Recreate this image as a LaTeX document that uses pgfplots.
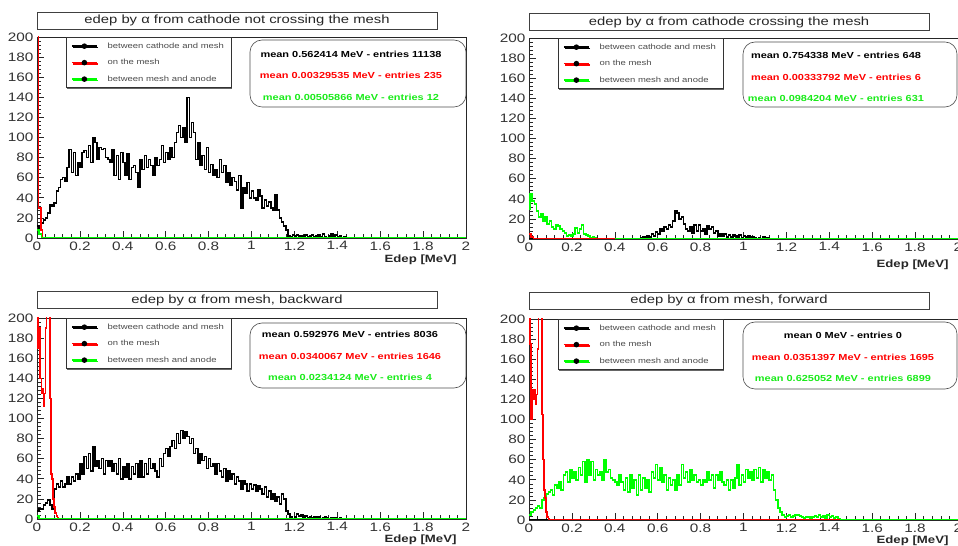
\documentclass[border=0pt]{standalone}
\usepackage{fontspec}
\setmainfont{Liberation Sans}[FakeStretch=1.25]
\usepackage{pgfplots}
\pgfplotsset{compat=1.18}
\usetikzlibrary{shadows}
\definecolor{hred}{RGB}{255,0,0}
\definecolor{hgreen}{RGB}{0,255,0}
\definecolor{tgreen}{RGB}{25,235,25}
\definecolor{lgray}{RGB}{75,75,75}

\pgfplotsset{
 rootstyle/.style={
  anchor=south west, width=429bp, height=201bp, scale only axis,
  xmin=0,xmax=2,ymin=0,ymax=200,
  xtick={0,0.2,0.4,0.6,0.8,1,1.2,1.4,1.6,1.8,2},
  ytick={0,20,40,60,80,100,120,140,160,180,200},
  minor x tick num=4, minor y tick num=4,
  tick align=inside, tick pos=left,
  major tick length=7bp, minor tick length=3.5bp,
  axis line style={black!85,line width=0.8bp},
  every tick/.style={black!85,line width=0.6bp},
  tick label style={font=\fontsize{12.3}{14}\selectfont, text=black!80},
  /pgf/number format/assume math mode=true,
  xlabel={\bfseries Edep [MeV]},
  legend style={at={(axis description cs:0.067,1)}, anchor=north west, draw=black!80, line width=0.8bp, fill=white,
    font=\fontsize{7.6}{9}\selectfont, text=lgray, inner xsep=5bp, inner ysep=3.3bp, row sep=5.5bp,
    drop shadow={shadow xshift=1.2bp, shadow yshift=-1.2bp, fill=black!60, opacity=1}},
  legend cell align=left,
  legend image code/.code={\draw[mark repeat=2,mark phase=2,##1] plot coordinates {(0bp,0bp)(12.5bp,0bp)(25bp,0bp)}; \path (33bp,0bp);},
 },
 hist/.style={const plot mark left, no markers, line width=1.5bp, forget plot},
}
\newcommand{\legendimages}{%
 \addlegendimage{black,line width=1.5bp,mark=*,mark size=2bp,mark options={fill=black,draw=black,solid}}
 \addlegendimage{hred,line width=1.5bp,mark=*,mark size=2bp,mark options={fill=black,draw=black,solid}}
 \addlegendimage{hgreen,line width=1.5bp,mark=*,mark size=2bp,mark options={fill=black,draw=black,solid}}
 \legend{between cathode and mesh\hspace{8bp},on the mesh,between mesh and anode}}

\begin{document}
\begin{tikzpicture}
\useasboundingbox (0,0) rectangle (958bp,546bp);

% ---------------- Panel 1 ----------------
\begin{axis}[rootstyle, at={(37bp,308bp)},
  xlabel style={font=\fontsize{10.6}{12}\selectfont, text=black!85, at={(axis description cs:0.986,0)}, anchor=east, yshift=-22bp}]
\addplot[hist, black] coordinates {(0,12)(0.01,10)(0.02,15)(0.03,18)(0.04,20)(0.05,25)(0.06,33)(0.07,32)(0.08,35)(0.09,47)(0.10,50)(0.11,58)(0.12,60)(0.13,56)(0.14,70)(0.15,88)(0.16,65)(0.17,85)(0.18,62)(0.19,75)(0.20,70)(0.21,85)(0.22,87)(0.23,80)(0.24,92)(0.25,75)(0.26,100)(0.27,95)(0.28,78)(0.29,90)(0.30,88)(0.31,89)(0.32,80)(0.33,78)(0.34,75)(0.35,88)(0.36,62)(0.37,82)(0.38,58)(0.39,85)(0.40,75)(0.41,62)(0.42,84)(0.43,58)(0.44,70)(0.45,72)(0.46,65)(0.47,50)(0.48,78)(0.49,68)(0.50,82)(0.51,70)(0.52,78)(0.53,72)(0.54,62)(0.55,80)(0.56,72)(0.57,78)(0.58,92)(0.59,75)(0.60,85)(0.61,78)(0.62,90)(0.63,80)(0.64,95)(0.65,105)(0.66,112)(0.67,100)(0.68,110)(0.69,95)(0.70,140)(0.71,100)(0.72,115)(0.73,105)(0.74,78)(0.75,95)(0.76,72)(0.77,82)(0.78,68)(0.79,90)(0.80,65)(0.81,73)(0.82,62)(0.83,68)(0.84,60)(0.85,78)(0.86,65)(0.87,72)(0.88,55)(0.89,65)(0.90,52)(0.91,60)(0.92,56)(0.93,48)(0.94,62)(0.95,30)(0.96,50)(0.97,45)(0.98,55)(0.99,40)(1.00,47)(1.01,40)(1.02,38)(1.03,48)(1.04,42)(1.05,30)(1.06,38)(1.07,32)(1.08,36)(1.09,30)(1.10,28)(1.11,43)(1.12,28)(1.13,20)(1.14,16)(1.15,12)(1.16,8)(1.17,2)(1.18,1)(1.19,3)(1.20,2)(1.21,3)(1.22,2)(1.23,1)(1.24,2)(1.25,3)(1.26,1)(1.27,2)(1.28,3)(1.29,1)(1.30,2)(1.31,3)(1.32,1)(1.33,4)(1.34,1)(1.35,0)(1.36,2)(1.37,4)(1.38,1)(1.39,3)(1.40,1)(1.41,2)(1.42,0)(1.43,1)(1.44,0)(2,0)};
\addplot[hist, hred] coordinates {(0,230)(0.008,30)(0.018,8)(0.026,0)(2,0)};
\addplot[hist, hgreen] coordinates {(0,8)(0.01,4)(0.02,0)(2,0)};
\legendimages
\end{axis}

% ---------------- Panel 2 ----------------
\begin{axis}[rootstyle, at={(529bp,307bp)},
  xlabel style={font=\fontsize{10.6}{12}\selectfont, text=black!85, at={(axis description cs:0.986,0)}, anchor=east, yshift=-26bp}]
\addplot[hist, black] coordinates {(0,0)(0.52,1)(0.53,2)(0.54,1)(0.55,3)(0.56,2)(0.57,5)(0.58,3)(0.59,7)(0.60,5)(0.61,10)(0.62,8)(0.63,12)(0.64,10)(0.65,14)(0.66,12)(0.67,18)(0.68,28)(0.69,26)(0.70,20)(0.71,22)(0.72,15)(0.73,10)(0.74,8)(0.75,12)(0.76,6)(0.77,14)(0.78,8)(0.79,14)(0.80,8)(0.81,10)(0.82,5)(0.83,13)(0.84,10)(0.85,12)(0.86,6)(0.87,8)(0.88,3)(0.89,5)(0.90,3)(0.91,5)(0.92,2)(0.93,4)(0.94,2)(0.95,4)(0.96,3)(0.97,2)(0.98,4)(0.99,1)(1.00,3)(1.01,2)(1.02,3)(1.03,1)(1.04,2)(1.05,1)(1.06,0)(1.07,1)(1.08,0)(1.09,2)(1.10,1)(1.11,1)(1.12,0)(2,0)};
\addplot[hist, hgreen] coordinates {(0,30)(0.005,45)(0.015,38)(0.025,35)(0.035,28)(0.045,22)(0.055,25)(0.065,18)(0.075,22)(0.085,15)(0.095,18)(0.105,12)(0.115,10)(0.125,14)(0.135,13)(0.145,10)(0.155,8)(0.165,6)(0.175,3)(0.185,4)(0.195,3)(0.205,5)(0.215,11)(0.225,6)(0.235,10)(0.245,14)(0.255,5)(0.265,4)(0.275,3)(0.285,1)(0.295,2)(0.305,1)(0.315,0)(2,0)};
\addplot[hist, hred] coordinates {(0,5)(0.01,2)(0.02,0)(0.4,0)};
\legendimages
\end{axis}

% ---------------- Panel 3 ----------------
\begin{axis}[rootstyle, at={(37bp,27bp)},
  xlabel style={font=\fontsize{10.6}{12}\selectfont, text=black!85, at={(axis description cs:0.986,0)}, anchor=east, yshift=-21bp}]
\addplot[hist, black] coordinates {(0,8)(0.01,10)(0.02,10)(0.03,14)(0.04,16)(0.05,19)(0.06,14)(0.07,10)(0.08,30)(0.09,35)(0.10,32)(0.11,38)(0.12,32)(0.13,35)(0.14,42)(0.15,35)(0.16,42)(0.17,38)(0.18,45)(0.19,40)(0.20,55)(0.21,45)(0.22,62)(0.23,50)(0.24,65)(0.25,48)(0.26,72)(0.27,52)(0.28,58)(0.29,50)(0.30,60)(0.31,45)(0.32,58)(0.33,52)(0.34,58)(0.35,48)(0.36,55)(0.37,45)(0.38,60)(0.39,40)(0.40,52)(0.41,42)(0.42,55)(0.43,40)(0.44,52)(0.45,45)(0.46,55)(0.47,42)(0.48,58)(0.49,42)(0.50,55)(0.51,45)(0.52,60)(0.53,50)(0.54,55)(0.55,48)(0.56,42)(0.57,60)(0.58,52)(0.59,65)(0.60,70)(0.61,62)(0.62,72)(0.63,78)(0.64,70)(0.65,85)(0.66,75)(0.67,88)(0.68,80)(0.69,87)(0.70,82)(0.71,75)(0.72,80)(0.73,65)(0.74,70)(0.75,55)(0.76,65)(0.77,58)(0.78,62)(0.79,50)(0.80,60)(0.81,52)(0.82,55)(0.83,45)(0.84,55)(0.85,48)(0.86,42)(0.87,50)(0.88,38)(0.89,48)(0.90,40)(0.91,45)(0.92,35)(0.93,42)(0.94,38)(0.95,30)(0.96,38)(0.97,35)(0.98,28)(0.99,35)(1.00,30)(1.01,34)(1.02,28)(1.03,33)(1.04,30)(1.05,25)(1.06,32)(1.07,22)(1.08,28)(1.09,20)(1.10,25)(1.11,18)(1.12,22)(1.13,15)(1.14,25)(1.15,20)(1.16,8)(1.17,5)(1.18,2)(1.19,0)(1.20,2)(1.21,5)(1.22,3)(1.23,4)(1.24,2)(1.25,3)(1.26,1)(1.27,2)(1.28,1)(1.29,2)(1.30,1)(1.31,2)(1.32,0)(1.33,1)(1.34,2)(1.35,1)(1.36,0)(1.37,1)(1.38,0)(1.39,1)(1.40,0)(1.41,1)(1.42,0)(2,0)};
\addplot[hist, hred] coordinates {(0,230)(0.005,170)(0.01,190)(0.015,140)(0.02,125)(0.025,130)(0.03,112)(0.035,125)(0.04,190)(0.045,230)(0.05,230)(0.055,230)(0.06,120)(0.065,45)(0.07,40)(0.075,20)(0.08,12)(0.085,6)(0.09,3)(0.095,1)(0.1,0)(0.105,0)};
\addplot[hist, hgreen] coordinates {(0,3)(0.01,0)(2,0)};
\legendimages
\end{axis}

% ---------------- Panel 4 ----------------
\begin{axis}[rootstyle, at={(529bp,26bp)},
  xlabel style={font=\fontsize{10.6}{12}\selectfont, text=black!85, at={(axis description cs:0.986,0)}, anchor=east, yshift=-20.5bp}]
\addplot[hist, black] coordinates {(0,0)(2,0)};
\addplot[hist, hgreen] coordinates {(0,5)(0.01,8)(0.02,10)(0.03,12)(0.04,14)(0.05,12)(0.06,20)(0.07,22)(0.08,26)(0.09,28)(0.10,30)(0.11,25)(0.12,35)(0.13,32)(0.14,38)(0.15,30)(0.16,45)(0.17,48)(0.18,38)(0.19,50)(0.20,42)(0.21,48)(0.22,40)(0.23,52)(0.24,45)(0.25,58)(0.26,38)(0.27,60)(0.28,45)(0.29,58)(0.30,40)(0.31,50)(0.32,45)(0.33,48)(0.34,40)(0.35,60)(0.36,48)(0.37,50)(0.38,42)(0.39,40)(0.40,38)(0.41,35)(0.42,45)(0.43,38)(0.44,30)(0.45,42)(0.46,28)(0.47,45)(0.48,32)(0.49,40)(0.50,25)(0.51,45)(0.52,30)(0.53,42)(0.54,32)(0.55,40)(0.56,28)(0.57,48)(0.58,42)(0.59,55)(0.60,40)(0.61,52)(0.62,38)(0.63,45)(0.64,30)(0.65,42)(0.66,35)(0.67,40)(0.68,30)(0.69,45)(0.70,35)(0.71,55)(0.72,42)(0.73,48)(0.74,38)(0.75,50)(0.76,40)(0.77,45)(0.78,38)(0.79,40)(0.80,35)(0.81,40)(0.82,38)(0.83,48)(0.84,40)(0.85,45)(0.86,32)(0.87,45)(0.88,40)(0.89,48)(0.90,38)(0.91,35)(0.92,40)(0.93,30)(0.94,40)(0.95,32)(0.96,42)(0.97,55)(0.98,35)(0.99,45)(1.00,38)(1.01,50)(1.02,42)(1.03,48)(1.04,40)(1.05,50)(1.06,42)(1.07,52)(1.08,38)(1.09,50)(1.10,42)(1.11,48)(1.12,40)(1.13,45)(1.14,30)(1.15,20)(1.16,12)(1.17,8)(1.18,5)(1.19,3)(1.20,4)(1.21,5)(1.22,3)(1.23,4)(1.24,5)(1.25,5)(1.26,4)(1.27,3)(1.28,2)(1.29,3)(1.30,3)(1.31,2)(1.32,3)(1.33,4)(1.34,3)(1.35,5)(1.36,3)(1.37,4)(1.38,2)(1.39,5)(1.40,3)(1.41,4)(1.42,2)(1.43,3)(1.44,1)(1.45,0)(2,0)};
\addplot[hist, hred] coordinates {(0,230)(0.005,175)(0.01,100)(0.015,130)(0.02,120)(0.025,130)(0.03,115)(0.035,125)(0.04,170)(0.045,230)(0.05,230)(0.055,230)(0.06,105)(0.065,60)(0.07,30)(0.075,22)(0.08,8)(0.085,3)(0.09,1)(0.095,0)(1.45,0)};
\legendimages
\end{axis}

% ---------------- Titles ----------------
\tikzset{ttl/.style={draw=black!75, line width=0.8bp, fill=white, minimum width=400bp, minimum height=17bp, inner sep=0pt, font=\fontsize{11.9}{13}\selectfont, text=black!85}}
\node[ttl] at (237bp,525.5bp) {edep by α from cathode not crossing the mesh};
\node[ttl] at (729bp,524bp) {edep by α from cathode crossing the mesh};
\node[ttl] at (237bp,246bp) {edep by α from mesh, backward};
\node[ttl] at (729bp,245.5bp) {edep by α from mesh, forward};

% ---------------- Stats boxes ----------------
\tikzset{sbox/.style={black!70, line width=0.6bp, rounded corners=12bp},
         stxt/.style={font=\fontsize{8.8}{21.5}\selectfont\bfseries, align=center, inner sep=0pt}}
\draw[sbox] (250bp,439bp) rectangle (466bp,506bp);
\node[stxt] at (351bp,470.5bp) {\textcolor{black}{mean 0.562414 MeV - entries 11138}\\ \textcolor{hred}{mean 0.00329535 MeV - entries 235}\\ \textcolor{tgreen}{mean 0.00505866 MeV - entries 12}};
\draw[sbox] (743bp,439bp) rectangle (957bp,504bp);
\node[stxt] at (836bp,469bp) {\textcolor{black}{mean 0.754338 MeV - entries 648}\\ \textcolor{hred}{mean 0.00333792 MeV - entries 6}\\ \textcolor{tgreen}{mean 0.0984204 MeV - entries 631}};
\draw[sbox] (250bp,158bp) rectangle (466bp,223bp);
\node[stxt] at (350bp,190bp) {\textcolor{black}{mean 0.592976 MeV - entries 8036}\\ \textcolor{hred}{mean 0.0340067 MeV - entries 1646}\\ \textcolor{tgreen}{mean 0.0234124 MeV - entries 4}};
\draw[sbox] (743bp,157bp) rectangle (957bp,224bp);
\node[stxt] at (843bp,189bp) {\textcolor{black}{mean 0 MeV - entries 0}\\ \textcolor{hred}{mean 0.0351397 MeV - entries 1695}\\ \textcolor{tgreen}{mean 0.625052 MeV - entries 6899}};
\end{tikzpicture}
\end{document}
